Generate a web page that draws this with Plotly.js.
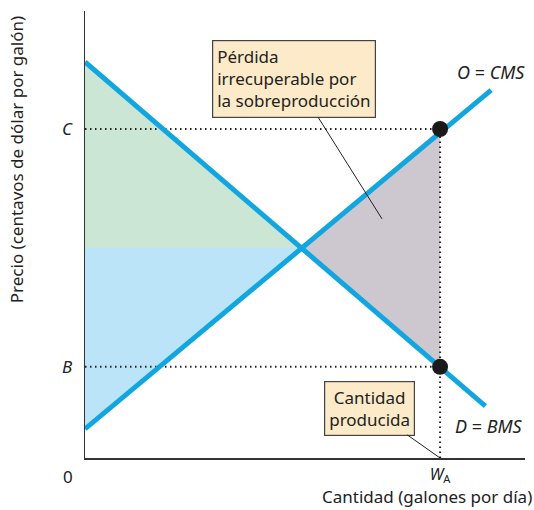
<!DOCTYPE html>
<html>
<head>
<meta charset="utf-8">
<script src="https://cdn.plot.ly/plotly-3.0.1.min.js"></script>
<style>
  html, body { margin: 0; padding: 0; background: #fff; }
  #chart { width: 534px; height: 510px; }
</style>
</head>
<body>
<div id="chart"></div>
<script>
// quantities / prices (axes run 0..100)
const demandQ = [0, 91];
const demandP = [88.6, 11.6];
const supplyQ = [0, 92.3];
const supplyP = [6.5, 82.3];

const eqQ = 48.9;     // efficient quantity
const eqP = 47;       // efficient price
const wA = 80.7;      // quantity produced
const priceC = 73.6;  // marginal social cost at W_A
const priceB = 20.4;  // marginal social benefit at W_A

const priceTicks = [priceB, priceC];
const priceLabels = ['<i>B</i>', '<i>C</i>'];
const qtyTicks = [wA];
const qtyLabels = ['<i>W</i><sub>A</sub>'];

const lineBlue = '#12a6e0';
const font = 'Noto Sans, DejaVu Sans, sans-serif';

const traces = [];

// consumer surplus (green)
traces.push({
    x: [demandQ[0], eqQ, 0], y: [demandP[0], eqP, eqP],
    mode: 'lines', fill: 'toself', fillcolor: '#cbe6d4',
    line: { width: 0 }, hoverinfo: 'skip', showlegend: false
});
// producer surplus (blue)
traces.push({
    x: [0, eqQ, supplyQ[0]], y: [eqP, eqP, supplyP[0]],
    mode: 'lines', fill: 'toself', fillcolor: '#bbe4f8',
    line: { width: 0 }, hoverinfo: 'skip', showlegend: false
});
// deadweight loss (gray)
traces.push({
    x: [eqQ, wA, wA], y: [eqP, priceC, priceB],
    mode: 'lines', fill: 'toself', fillcolor: '#cdc8cf',
    line: { width: 0 }, hoverinfo: 'skip', showlegend: false
});

// dotted guides
const dotted = { color: '#222', width: 2, dash: '1.5px,3.5px' };
traces.push({ x: [0, wA], y: [priceC, priceC], mode: 'lines', line: dotted, showlegend: false });
traces.push({ x: [0, wA], y: [priceB, priceB], mode: 'lines', line: dotted, showlegend: false });
traces.push({ x: [wA, wA], y: [0, priceC], mode: 'lines', line: dotted, showlegend: false });

// curves
traces.push({ x: demandQ, y: demandP, mode: 'lines', line: { color: lineBlue, width: 5 }, showlegend: false });
traces.push({ x: supplyQ, y: supplyP, mode: 'lines', line: { color: lineBlue, width: 5 }, showlegend: false });

// points
traces.push({
    x: [wA, wA], y: [priceC, priceB], mode: 'markers',
    marker: { size: 16, color: '#1a1a1a' }, showlegend: false
});

const boxStyle = {
    bgcolor: '#fdeac8', bordercolor: '#444', borderwidth: 1.2, borderpad: 4,
    showarrow: true, arrowhead: 0, arrowwidth: 1, arrowcolor: '#222',
    font: { family: font, size: 17, color: '#222' }
};

const layout = {
    width: 534,
    height: 510,
    margin: { l: 85, r: 9, t: 11, b: 52 },
    plot_bgcolor: '#ffffff',
    paper_bgcolor: '#ffffff',
    font: { family: font, size: 16, color: '#222' },
    showlegend: false,
    xaxis: {
        range: [0, 100], showgrid: false, zeroline: false,
        showline: true, linecolor: '#333', linewidth: 1.5,
        tickvals: qtyTicks, ticktext: qtyLabels, ticks: '',
        ticklabelstandoff: 1,
        tickfont: { family: font, size: 16, color: '#222' }
    },
    yaxis: {
        range: [0, 100], showgrid: false, zeroline: false,
        showline: true, linecolor: '#333', linewidth: 1.5,
        tickvals: priceTicks, ticktext: priceLabels, ticks: '',
        ticklabelstandoff: 8,
        tickfont: { family: font, size: 17, color: '#222' }
    },
    annotations: [
        { x: 0, y: 0, xref: 'x', yref: 'y', text: '0', showarrow: false,
          xanchor: 'right', yanchor: 'top', xshift: -10, yshift: -5,
          font: { family: font, size: 17, color: '#222' } },
        { x: -0.155, y: 0.668, xref: 'paper', yref: 'paper', text: 'Precio (centavos de dólar por galón)',
          showarrow: false, textangle: -90, xanchor: 'center', yanchor: 'middle',
          font: { family: font, size: 17, color: '#222' } },
        { x: 1.02, y: -0.1163, xref: 'paper', yref: 'paper', text: 'Cantidad (galones por día)',
          showarrow: false, xanchor: 'right', yanchor: 'bottom',
          font: { family: font, size: 17, color: '#222' } },
        { x: supplyQ[1], y: supplyP[1], xref: 'x', yref: 'y', text: '<i>O</i> = <i>CMS</i>',
          showarrow: false, xanchor: 'center', yanchor: 'bottom', yshift: 4,
          font: { family: font, size: 18, color: '#222' } },
        { x: demandQ[1], y: demandP[1], xref: 'x', yref: 'y', text: '<i>D</i> = <i>BMS</i>',
          showarrow: false, xanchor: 'center', yanchor: 'top', xshift: 4, yshift: -6,
          font: { family: font, size: 18, color: '#222' } },
        Object.assign({}, boxStyle, {
            x: 67.5, y: 53.5, xref: 'x', yref: 'y',
            text: 'Pérdida<br>irrecuperable por<br>la sobreproducción',
            align: 'left', ax: -88, ay: -140
        }),
        Object.assign({}, boxStyle, {
            x: wA, y: 0, xref: 'x', yref: 'y',
            text: 'Cantidad<br>producida',
            align: 'center', ax: -71, ay: -50
        })
    ]
};

Plotly.newPlot('chart', traces, layout, { displayModeBar: false, staticPlot: true });
</script>
</body>
</html>
